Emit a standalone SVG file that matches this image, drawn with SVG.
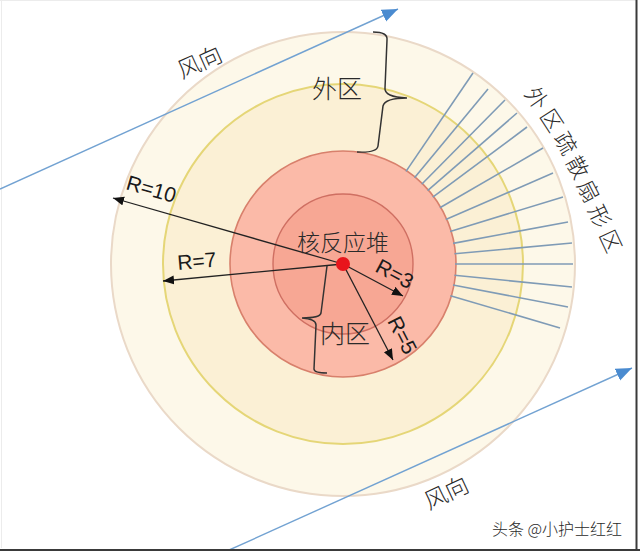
<svg xmlns="http://www.w3.org/2000/svg" width="640" height="551" viewBox="0 0 640 551">
  <style>
    .cjk { font-family: "Noto Sans CJK SC", sans-serif; fill: #2a2a2a; font-weight: 300; }
    .lat { font-family: "Liberation Sans", "Open Sans", sans-serif; fill: #1a1a1a; font-size: 21px; }
    .fan { stroke: #7f9bb6; stroke-width: 1.6; }
    .rad { stroke: #222; stroke-width: 1.3; fill: none; marker-end: url(#blackHead); }
    .wind { stroke: #72a2d2; stroke-width: 1.4; fill: none; marker-end: url(#blueHead); }
    .brace { stroke: #333; stroke-width: 1.5; fill: none; }
  </style>
  <defs>
    <marker id="blackHead" markerUnits="userSpaceOnUse" markerWidth="12" markerHeight="10" refX="11" refY="4.5" orient="auto">
      <path d="M0,0 L11,4.5 L0,9 Z" fill="#111"/>
    </marker>
    <marker id="blueHead" markerUnits="userSpaceOnUse" markerWidth="18" markerHeight="14" refX="16" refY="6.5" orient="auto">
      <path d="M0,0 L16,6.5 L0,13 Z" fill="#4a8bd0"/>
    </marker>
  </defs>

  <rect x="0" y="0" width="640" height="551" fill="#ffffff"/>
  <line x1="1.5" y1="0" x2="1.5" y2="548" stroke="#ececec" stroke-width="1"/>
  <line x1="0" y1="0.5" x2="636" y2="0.5" stroke="#ececec" stroke-width="1"/>

  <g id="zone-r10">
    <circle cx="343" cy="264" r="232" fill="#fdf8e9" stroke="#ead9c8" stroke-width="2"/>
  </g>
  <g id="zone-r7">
    <circle cx="343" cy="264" r="180" fill="#fbf0d5" stroke="#e5d677" stroke-width="2"/>
  </g>
  <g id="zone-r5">
    <circle cx="343" cy="264" r="113" fill="#fbbaa8" stroke="#d8806c" stroke-width="1.6"/>
  </g>
  <g id="zone-r3">
    <circle cx="343" cy="264" r="70" fill="#f7a794" stroke="#cf6f62" stroke-width="1.4"/>
  </g>

  <g id="fan-lines">
    <line class="fan" x1="406" y1="171.4" x2="473" y2="73"/>
    <line class="fan" x1="414.5" y1="177.8" x2="488" y2="89"/>
    <line class="fan" x1="421.7" y1="184.3" x2="505" y2="100"/>
    <line class="fan" x1="427.6" y1="190.6" x2="517" y2="113"/>
    <line class="fan" x1="432.8" y1="197.1" x2="527" y2="127"/>
    <line class="fan" x1="439.9" y1="207.8" x2="543" y2="148"/>
    <line class="fan" x1="445.8" y1="219.5" x2="553" y2="173"/>
    <line class="fan" x1="450.1" y1="231.4" x2="563" y2="197"/>
    <line class="fan" x1="453.1" y1="243.4" x2="568" y2="222"/>
    <line class="fan" x1="454.5" y1="253.8" x2="572" y2="243"/>
    <line class="fan" x1="455" y1="264" x2="573" y2="264"/>
    <line class="fan" x1="454.4" y1="275.2" x2="572" y2="287"/>
    <line class="fan" x1="453" y1="285" x2="568" y2="307"/>
    <line class="fan" x1="450.4" y1="295.7" x2="560" y2="328"/>
  </g>

  <g id="connectors">
    <line class="wind" x1="0" y1="189" x2="398" y2="9"/>
    <line class="wind" x1="227" y1="551" x2="632" y2="368"/>
    <line class="rad" x1="343" y1="264" x2="113" y2="198"/>
    <line class="rad" x1="343" y1="264" x2="163" y2="281"/>
    <line class="rad" x1="343" y1="264" x2="403" y2="296"/>
    <line class="rad" x1="343" y1="264" x2="393" y2="360"/>
    <path class="brace" d="M373,32 Q388,32 387,40 L385,88 Q384,97 407,98 Q385,98 383,106 L378,146 Q377,153 357,152"/>
    <path class="brace" d="M327,266 L321,313 Q320,318 302,318 Q316,319 316,325 L314,369 Q314,373 327,373"/>
  </g>

  <g id="labels">
    <text class="cjk" font-size="23" transform="translate(182,79) rotate(-24)">风向</text>
    <text class="cjk" font-size="23" transform="translate(429,510) rotate(-25)">风向</text>
    <text class="cjk" font-size="25" x="312" y="98">外区</text>
    <text class="cjk" font-size="25" x="320" y="343">内区</text>
    <text class="cjk" font-size="23" x="297" y="251">核反应堆</text>
    <text class="cjk" font-size="22" x="523.8 539.0 553.1 565.3 576.5 587.6 598.7" y="93.8 115.4 137.9 161.5 185.0 209.8 234.6" rotate="55 57 59 61 63 64 65">外区疏散扇形区</text>
    <text class="lat" transform="translate(125,189) rotate(16)">R=10</text>
    <text class="lat" transform="translate(178,270) rotate(-5)">R=7</text>
    <text class="lat" transform="translate(374,271) rotate(28)">R=3</text>
    <text class="lat" transform="translate(387,321) rotate(63)">R=5</text>
  </g>

  <g id="reactor-core">
    <circle cx="343" cy="264" r="7" fill="#e8141c"/>
  </g>

  <g id="watermark">
    <text class="cjk" font-size="16" x="492" y="535" fill="#222" stroke="#ffffff" stroke-width="2.5" paint-order="stroke" font-weight="400">头条 @小护士红红</text>
  </g>

  <line x1="636.5" y1="0" x2="636.5" y2="551" stroke="#3a3a3a" stroke-width="2"/>
  <line x1="0" y1="550" x2="640" y2="550" stroke="#3a3a3a" stroke-width="2"/>
</svg>
